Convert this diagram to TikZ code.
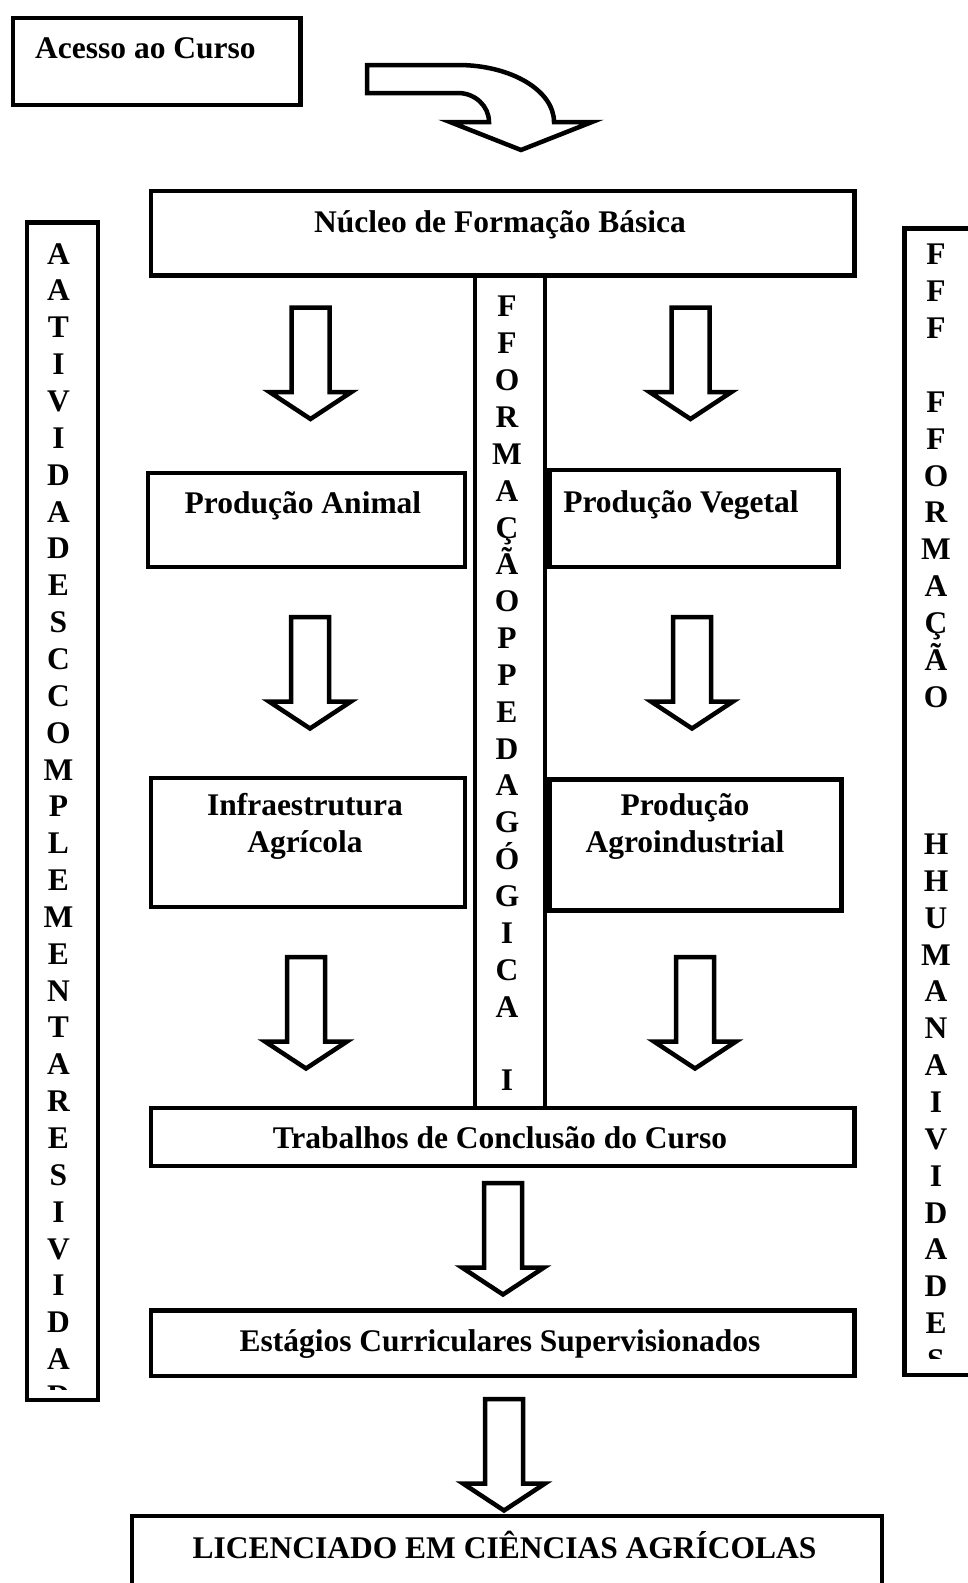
\documentclass[tikz,border=0pt]{standalone}
\usepackage{fontspec}
\setmainfont{Liberation Serif}

\tikzset{
  box/.style={draw, line width=4.5pt, inner sep=0pt, anchor=north west},
  txt/.style={font=\fontsize{31.5}{36.85}\selectfont\bfseries, inner sep=0pt, anchor=base},
  stack/.style={txt, align=center, anchor=north},
  blockdown/.pic={\draw[line width=4.5pt] (-19,0) -- (19,0) -- (19,84.5) -- (41,84.5) -- (0,111.5)
    -- (-41,84.5) -- (-19,84.5) -- cycle;}
}

\begin{document}
\begin{tikzpicture}[x=1pt, y=-1pt]
\useasboundingbox (0,0) rectangle (967,1583);

% acesso
\node[box, minimum width=287.5pt, minimum height=87pt] (acesso) at (10.5,15.5) {};
\node[txt, anchor=base west] (acessoT) at (35,58) {Acesso ao Curso};
\draw[line width=4.5pt] (367,65) -- (458,65) .. controls (511,65) and (554,90.5) .. (554,122)
  -- (592,122) -- (521,150) -- (450,122) -- (489,122) .. controls (489,106) and (475,93) .. (458,93)
  -- (367,93) -- cycle;

% colunas
\node[box, minimum width=71pt, minimum height=1177.5pt] (colL) at (24.5,220) {};
\node[box, minimum width=70pt, minimum height=832.5pt] (colC) at (472.5,273) {};
\node[box, minimum width=100pt, minimum height=1146.5pt] (colR) at (902,226) {};
\begin{scope}
  \clip (27,223) rectangle (93,1389);
  \node[stack] (colLT) at (58.5,243.1) {A\\A\\T\\I\\V\\I\\D\\A\\D\\E\\S\\C\\C\\O\\M\\P\\L\\E\\M\\E\\N\\T\\A\\R\\E\\S\\I\\V\\I\\D\\A\\D};
\end{scope}
\node[stack] (colCT) at (507,296.1) {F\\F\\O\\R\\M\\A\\Ç\\Ã\\O\\P\\P\\E\\D\\A\\G\\Ó\\G\\I\\C\\A\\~\\I};
\begin{scope}
  \clip (905,229) rectangle (1000,1358);
  \node[stack] (colRT) at (936,244.1) {F\\F\\F\\~\\F\\F\\O\\R\\M\\A\\Ç\\Ã\\O\\~\\~\\~\\H\\H\\U\\M\\A\\N\\A\\I\\V\\I\\D\\A\\D\\E\\S};
\end{scope}

% nucleos
\node[box, minimum width=703.5pt, minimum height=84.5pt] (nucleo) at (148.5,188.5) {};
\node[txt] (nucleoT) at (500,232.6) {Núcleo de Formação Básica};
\node[box, minimum width=317pt, minimum height=94pt] (animal) at (145.5,470.5) {};
\node[txt] (animalT) at (303,513) {Produção Animal};
\node[box, minimum width=289pt, minimum height=97pt] (vegetal) at (547,467.5) {};
\node[txt] (vegetalT) at (681,512) {Produção Vegetal};
\node[box, minimum width=314pt, minimum height=129pt] (infra) at (148.5,775.5) {};
\node[stack] (infraT) at (305,793.6) {Infraestrutura\\Agrícola};
\node[box, minimum width=292pt, minimum height=131pt] (agro) at (547,777) {};
\node[stack] (agroT) at (685,793.6) {Produção\\Agroindustrial};
\node[box, minimum width=703.5pt, minimum height=58pt] (tcc) at (148.5,1105.5) {};
\node[txt] (tccT) at (500,1148) {Trabalhos de Conclusão do Curso};
\node[box, minimum width=703.5pt, minimum height=65.5pt] (estagio) at (148.5,1308) {};
\node[txt] (estagioT) at (500,1351.5) {Estágios Curriculares Supervisionados};
\node[box, minimum width=750pt, minimum height=140pt] (licenciado) at (129.5,1513.5) {};
\node[txt] (licenciadoT) at (504.5,1558.7) {LICENCIADO EM CIÊNCIAS AGRÍCOLAS};

% setas
\foreach \n/\x/\y in {1/310.5/307.5, 2/690.5/307.5, 3/310/617, 4/692/617,
                      5/306/957, 6/695/957, 7/503/1183, 8/504/1399}
  \pic (seta\n) at (\x,\y) {blockdown};

\end{tikzpicture}
\end{document}
